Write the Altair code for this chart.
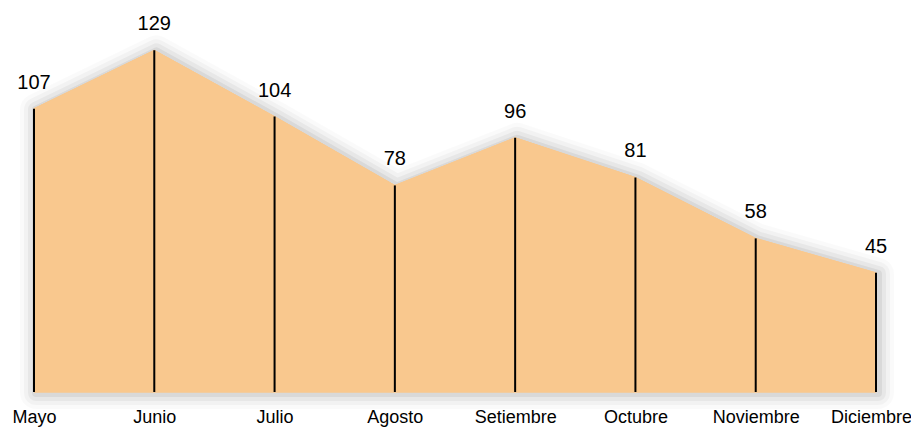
import altair as alt
import pandas as pd

meses = ["Mayo", "Junio", "Julio", "Agosto", "Setiembre", "Octubre", "Noviembre", "Diciembre"]
valores = [107, 129, 104, 78, 96, 81, 58, 45]

df = pd.DataFrame({"mes": meses, "valor": valores, "orden": list(range(len(meses)))})

# closed outline of the area (for the soft shadow)
outline = pd.DataFrame({
    "mes": meses + [meses[-1], meses[0], meses[0]],
    "valor": valores + [0, 0, valores[0]],
    "orden": list(range(len(meses) + 3)),
})

FONT = "Liberation Sans"
x = alt.X("mes:N", sort=meses, scale=alt.Scale(type="point", padding=0),
          axis=alt.Axis(title=None, labelAngle=0, domain=False, ticks=False, tickSize=0,
                        labelPadding=16, labelFontSize=18, labelFont=FONT,
                        labelColor="#000000", grid=False,
                        labelOffset=alt.expr("datum.value == 'Diciembre' ? -5 : 0")))
y = alt.Y("valor:Q", scale=alt.Scale(domain=[0, 145], nice=False, zero=True), axis=None)

shadows = []
for w, op in [(32, 0.02), (24, 0.03), (16, 0.045), (8, 0.06)]:
    shadows.append(
        alt.Chart(outline).mark_line(color="#000000", strokeWidth=w, opacity=op,
                                     strokeCap="round", strokeJoin="round",
                                     xOffset=2, yOffset=1)
        .encode(x=x, y=y, order="orden:Q")
    )

base = alt.Chart(df).encode(x=x)
area = base.mark_area(color="#F9C88E", opacity=1, stroke="#F9C88E", strokeWidth=1).encode(y=y)
rules = base.mark_rule(color="#000000", strokeWidth=2).encode(y=y, y2=alt.datum(0))
labels = base.mark_text(font=FONT, fontSize=20, dy=-20, baseline="alphabetic",
                        color="#000000").encode(y=y, text="valor:Q")

chart = alt.layer(*shadows, area, area, rules, labels).properties(
    width=842, height=384,
    background="#ffffff",
    autosize=alt.AutoSizeParams(type="none"),
    padding={"left": 26, "top": 0, "right": 35, "bottom": 40},
).configure_view(strokeWidth=0, stroke=None)

chart.save("out.html", embed_options={"renderer": "svg", "actions": False})
